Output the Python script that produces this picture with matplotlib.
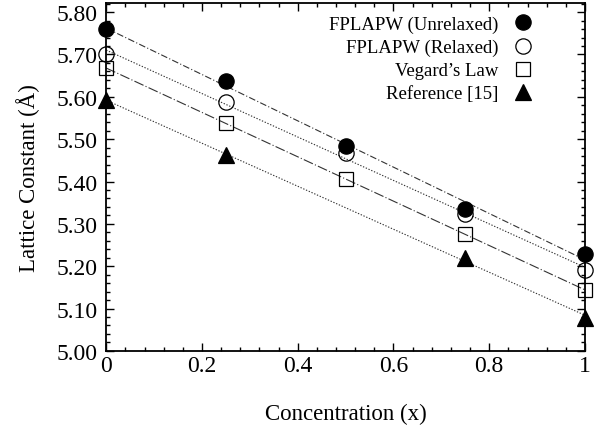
import numpy as np
import matplotlib
matplotlib.use('Agg')
import matplotlib.pyplot as plt
from matplotlib.ticker import MultipleLocator, FixedLocator

plt.rcParams['font.family'] = ['Liberation Serif', 'DejaVu Serif']
plt.rcParams['mathtext.fontset'] = 'stix'

conc = [0.0, 0.25, 0.5, 0.75, 1.0]
unrelaxed = [5.76, 5.638, 5.483, 5.334, 5.228]
relaxed = [5.70, 5.587, 5.468, 5.324, 5.19]
vegard = [5.667, 5.539, 5.405, 5.275, 5.144]
ref_x = [0.0, 0.25, 0.75, 1.0]
ref15 = [5.592, 5.462, 5.22, 5.078]

series = [
    ('FPLAPW (Unrelaxed)', conc, unrelaxed, 'o', 'black', (0, (6, 2, 1, 2))),
    ('FPLAPW (Relaxed)', conc, relaxed, 'o', 'none', (0, (1.2, 1.5))),
    ("Vegard\u2019s Law", conc, vegard, 's', 'none', (0, (9, 2, 1, 2))),
    ('Reference [15]', ref_x, ref15, '^', 'black', (0, (1.2, 1.5))),
]

fig = plt.figure(figsize=(6.0, 4.27), dpi=100)
ax = fig.add_axes([0.177, 0.176, 0.798, 0.815])

xx = np.array([0.0, 1.0])
for label, x, y, mk, fc, ls in series:
    k, b = np.polyfit(x, y, 1)
    ax.plot(xx, k * xx + b, color='#333333', linewidth=0.8, linestyle=ls)
    ax.plot(x, y, linestyle='none', marker=mk, markersize=11 if mk != 's' else 10.5,
            markerfacecolor=fc, markeredgecolor='black', markeredgewidth=0.9,
            label=label, clip_on=False, zorder=3)

ax.set_xlim(0, 1)
ax.set_ylim(5.0, 5.822)
ax.xaxis.set_major_locator(FixedLocator([0, 0.2, 0.4, 0.6, 0.8, 1.0]))
ax.set_xticklabels(['0', '0.2', '0.4', '0.6', '0.8', '1'])
ax.xaxis.set_minor_locator(MultipleLocator(0.04))
ax.yaxis.set_major_locator(MultipleLocator(0.1))
ax.yaxis.set_minor_locator(MultipleLocator(0.02))
ax.yaxis.set_major_formatter(matplotlib.ticker.FormatStrFormatter('%.2f'))
ax.tick_params(which='both', direction='in', top=True, right=True,
               labelsize=17, width=1.0)
ax.tick_params(axis='x', pad=3)
ax.tick_params(axis='y', pad=6)
ax.tick_params(which='major', length=6)
ax.tick_params(which='minor', length=3)
for s in ax.spines.values():
    s.set_linewidth(1.3)

ax.set_xlabel('Concentration (x)', fontsize=16.5, labelpad=19)
ax.set_ylabel('Lattice Constant (\u00c5)', fontsize=16.5, labelpad=12)

ax.legend(loc='upper right', frameon=False, markerfirst=False, fontsize=13.5,
          handlelength=1.0, handletextpad=0.8, labelspacing=0.32,
          borderaxespad=0.0, bbox_to_anchor=(0.905, 0.985))

fig.savefig('out.png', dpi=100)
